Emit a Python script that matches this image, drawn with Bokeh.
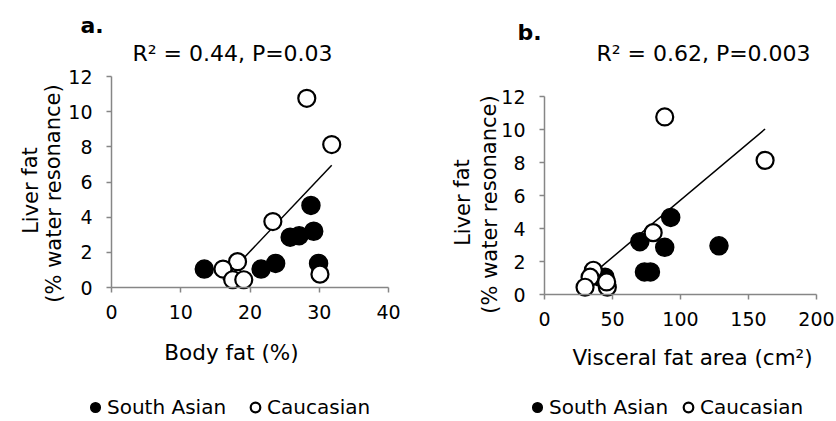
from bokeh.plotting import figure
from bokeh.models import Range1d, Label, Legend, LegendItem, FixedTicker
from bokeh.layouts import row
from bokeh.embed import file_html
from bokeh.resources import INLINE

# ---------------- data ----------------
# South Asian (filled)
sa_body_fat = [13.4, 21.6, 23.7, 25.8, 27.1, 29.2, 28.8, 29.9]
sa_visceral = [40.8, 44.5, 73.5, 88.4, 128.3, 70.1, 92.8, 77.9]
sa_liver_fat = [1.05, 1.05, 1.37, 2.86, 2.95, 3.2, 4.67, 1.37]
# Caucasian (open)
ca_body_fat = [28.2, 31.8, 23.3, 18.2, 16.1, 17.5, 19.1, 30.1]
ca_visceral = [88.4, 162.2, 79.9, 35.9, 33.5, 29.8, 46.2, 45.7]
ca_liver_fat = [10.76, 8.13, 3.75, 1.47, 1.05, 0.44, 0.44, 0.76]
# trend lines
trend_a_x = [16.1, 31.8]
trend_a_y = [0.43, 6.95]
trend_b_x = [29.8, 162.2]
trend_b_y = [0.86, 10.03]

x_ticks_a = [0, 10, 20, 30, 40]
x_ticks_b = [0, 50, 100, 150, 200]
y_ticks = [0, 2, 4, 6, 8, 10, 12]

FONT = "DejaVu Sans"
AXIS_GRAY = "#868686"
H = 421


def panel(width, xlim, xticks, xpix, ypix, xs_sa, xs_ca, tx, ty,
          letter, letter_pos, stat, stat_pos, xlabel, xlabel_pos,
          ylab1_pos, ylab2_pos, legend_loc, legend_spacing):
    # xpix: canvas pixel of x=xlim[0] and x=xlim[1]; ypix: canvas pixel (from top)
    # of y=0 and y=12.  The frame covers the whole canvas; axes are fixed inside.
    xs = (xpix[1] - xpix[0]) / (xlim[1] - xlim[0])
    ys = (ypix[0] - ypix[1]) / 12.0
    x_start = xlim[0] - xpix[0] / xs
    x_end = xlim[0] + (width - xpix[0]) / xs
    y_end = 12 + ypix[1] / ys
    y_start = -(H - ypix[0]) / ys
    p = figure(width=width, height=H, output_backend="svg",
               toolbar_location=None, x_range=Range1d(x_start, x_end),
               y_range=Range1d(y_start, y_end), min_border=0,
               min_border_left=0, min_border_right=0,
               min_border_top=0, min_border_bottom=0)
    p.outline_line_color = None
    p.grid.visible = False
    p.background_fill_color = "white"
    p.xaxis.fixed_location = 0
    p.yaxis.fixed_location = xlim[0]
    p.xaxis.bounds = tuple(xlim)
    p.yaxis.bounds = (0, 12)
    for ax, ticks in ((p.xaxis[0], xticks), (p.yaxis[0], y_ticks)):
        ax.ticker = FixedTicker(ticks=ticks)
        ax.axis_line_color = AXIS_GRAY
        ax.axis_line_width = 1.5
        ax.major_tick_line_color = AXIS_GRAY
        ax.major_tick_line_width = 1.5
        ax.major_tick_out = 5
        ax.major_tick_in = 0
        ax.minor_tick_line_color = None
        ax.major_label_text_font = FONT
        ax.major_label_text_font_size = "19px"
        ax.major_label_text_color = "black"
    p.xaxis.major_label_standoff = 12
    p.yaxis.major_label_standoff = 14

    p.line(tx, ty, line_color="black", line_width=1.5)
    r_sa = p.scatter(xs_sa, sa_liver_fat, marker="circle", size=18,
                     fill_color="black", line_color="black", line_width=1.5)
    r_ca = p.scatter(xs_ca, ca_liver_fat, marker="circle", size=17,
                     fill_color="white", line_color="black", line_width=2.2)

    def lab(text, pos, size, align="center", angle=0.0, style="normal"):
        # pos given in canvas pixels from the top-left corner
        p.add_layout(Label(x=pos[0], y=H - pos[1], x_units="screen", y_units="screen",
                           text=text, text_font=FONT, text_font_size=size,
                           text_align=align, text_baseline="alphabetic",
                           angle=angle, text_font_style=style,
                           text_color="black"))

    lab(letter, letter_pos, "22px", align="left", style="bold")
    lab(stat, stat_pos, "22px")
    lab(xlabel, xlabel_pos, "21.5px")
    lab("Liver fat", ylab1_pos, "21px", angle=1.5708)
    lab("(% water resonance)", ylab2_pos, "21px", angle=1.5708)

    legend = Legend(items=[LegendItem(label="South Asian", renderers=[r_sa]),
                           LegendItem(label="Caucasian", renderers=[r_ca])],
                    orientation="horizontal",
                    location=(legend_loc[0], H - legend_loc[1] - 12),
                    glyph_width=24, glyph_height=24, label_standoff=0,
                    spacing=legend_spacing, padding=0, margin=0,
                    border_line_alpha=0, background_fill_alpha=0,
                    label_text_font=FONT, label_text_font_size="20px",
                    label_text_color="black")
    p.add_layout(legend, "center")
    return p


pa = panel(426, (0, 40), x_ticks_a, (111, 388), (287, 76),
           sa_body_fat, ca_body_fat, trend_a_x, trend_a_y,
           "a.", (80, 25), "R\u00b2 = 0.44, P=0.03", (232, 53),
           "Body fat (%)", (231, 352),
           (30, 190), (53, 193), (83, 407), 17)

pb = panel(410, (0, 200), x_ticks_b, (118, 390), (294, 96),
           sa_visceral, ca_visceral, trend_b_x, trend_b_y,
           "b.", (91, 32), "R\u00b2 = 0.62, P=0.003", (277, 53),
           "Visceral fat area (cm\u00b2)", (266, 357),
           (36, 202), (63, 204), (99, 407), 8)

layout = row(pa, pb)
open("out.html", "w").write(file_html(layout, INLINE))
